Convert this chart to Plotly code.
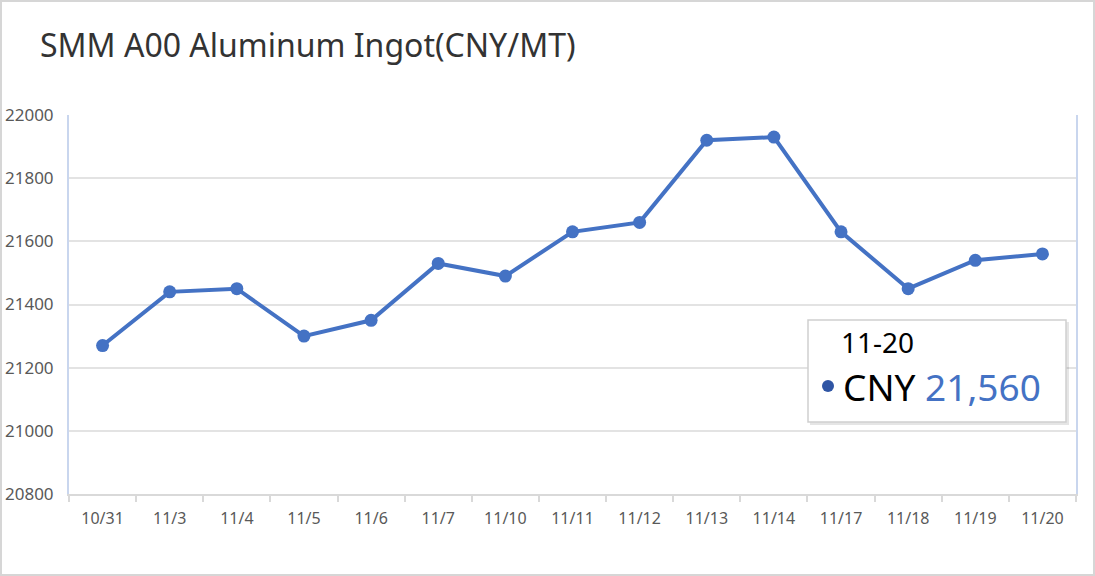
import plotly.graph_objects as go

dates = ["10/31", "11/3", "11/4", "11/5", "11/6", "11/7", "11/10", "11/11",
         "11/12", "11/13", "11/14", "11/17", "11/18", "11/19", "11/20"]
prices = [21270, 21440, 21450, 21300, 21350, 21530, 21490, 21630,
          21660, 21920, 21930, 21630, 21450, 21540, 21560]
y_ticks = [20800, 21000, 21200, 21400, 21600, 21800, 22000]
title_text = "SMM A00 Aluminum Ingot(CNY/MT)"
tooltip_date = "11-20"
tooltip_series = "CNY"

W, H = 1095, 576
ML, MR, MT, MB = 69, 19, 115, 82
PW, PH = W - ML - MR, H - MT - MB

line_color = "#4472c4"


def px(x):
    return (x - ML) / PW


def py(y):
    return 1 - (y - MT) / PH


fig = go.Figure()
fig.add_trace(go.Scatter(
    x=dates, y=prices, mode="lines+markers",
    line=dict(color=line_color, width=4),
    marker=dict(color=line_color, size=13),
    hoverinfo="skip", showlegend=False,
))

fig.update_layout(
    width=W, height=H,
    margin=dict(l=ML, r=MR, t=MT, b=MB),
    paper_bgcolor="white", plot_bgcolor="white",
    font=dict(family="Noto Sans", color="#595959"),
    title=dict(text=title_text, x=40 / W, xanchor="left", y=1 - 46 / H, yanchor="middle",
               font=dict(family="Noto Sans", size=32, color="#333333")),
    xaxis=dict(
        type="category", range=[-0.5, len(dates) - 0.5], automargin=False,
        showgrid=False, showline=True, linecolor="#d9d9d9", linewidth=2,
        ticks="outside", tickson="boundaries", ticklen=6, tickcolor="#d9d9d9", tickwidth=2,
        tickfont=dict(family="Noto Sans", size=16, color="#595959"),
        ticklabelstandoff=9,
    ),
    yaxis=dict(
        range=[20800, 22000], tickvals=y_ticks, ticktext=[str(v) for v in y_ticks],
        automargin=False,
        showgrid=True, gridcolor="#e3e3e3", gridwidth=1.5,
        showline=True, linecolor="#c9d6ee", linewidth=2, mirror=True,
        zeroline=False,
        tickfont=dict(family="Noto Sans", size=17, color="#595959"),
        ticks="", ticklabelstandoff=10,
    ),
    shapes=[
        dict(type="rect", xref="paper", yref="paper",
             x0=-(ML - 1) / PW, x1=1 + (MR - 1) / PW,
             y0=-(MB - 1) / PH, y1=1 + (MT - 1) / PH,
             line=dict(color="#d6d6d6", width=2), layer="below"),
        # tooltip shadow and box
        dict(type="rect", xref="paper", yref="paper",
             x0=px(810), x1=px(1069), y0=py(425), y1=py(322),
             line=dict(width=0), fillcolor="rgba(0,0,0,0.10)", layer="above"),
        dict(type="rect", xref="paper", yref="paper",
             x0=px(808), x1=px(1066), y0=py(422), y1=py(320),
             line=dict(color="#cfcfcf", width=1.5), fillcolor="white", layer="above"),
        # tooltip series dot
        dict(type="circle", xref="paper", yref="paper",
             x0=px(822), x1=px(834), y0=py(392), y1=py(380),
             line=dict(width=0), fillcolor="#2f55a4", layer="above"),
    ],
)

last_val = prices[-1]
fig.add_annotation(
    xref="paper", yref="paper", x=px(839), y=py(342),
    xanchor="left", yanchor="middle", showarrow=False,
    text=tooltip_date, font=dict(family="Noto Sans", size=28, color="#000000"),
)
fig.add_annotation(
    xref="paper", yref="paper", x=px(841), y=py(386),
    xanchor="left", yanchor="middle", showarrow=False,
    text=(f"<span style='color:#000000'>{tooltip_series}</span> "
          f"<span style='color:{line_color}'>{last_val:,}</span>"),
    font=dict(family="Noto Sans", size=37, color="#000000"),
)

fig.write_html("out.html")
